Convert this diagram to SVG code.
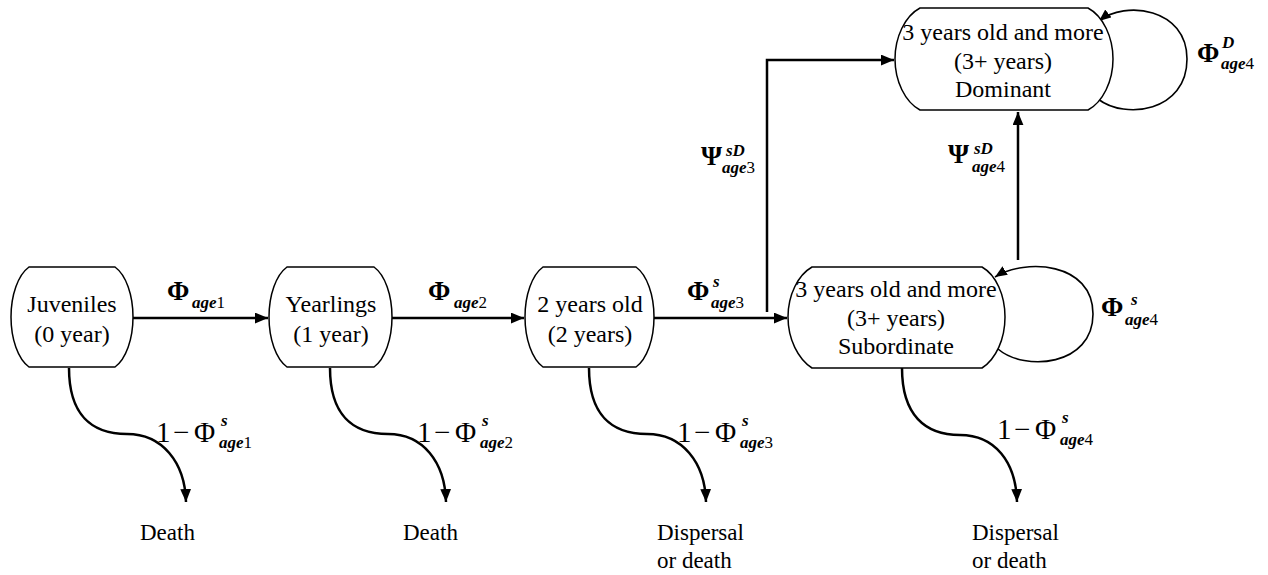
<svg xmlns="http://www.w3.org/2000/svg" width="1268" height="575" viewBox="0 0 1268 575">
  <style>
    text { font-family: 'Liberation Serif', 'DejaVu Serif', serif; fill: #000; }
    .box { fill: #fff; stroke: #000; stroke-width: 1.5; }
    .lbl { font-size: 24px; text-anchor: middle; }
    .out { font-size: 23px; }
    .sym { font-size: 27px; font-weight: bold; }
    .num { font-size: 29px; }
    .sub { font-size: 17px; font-weight: bold; font-style: italic; }
    .dig { font-style: normal; font-weight: normal; }
    .edge { fill: none; stroke: #000; stroke-width: 2.5; }
    .loop { fill: none; stroke: #000; stroke-width: 1.6; }
  </style>
  <defs>
    <marker id="arrow" viewBox="0 0 12 10" refX="12" refY="5" markerWidth="13" markerHeight="11" markerUnits="userSpaceOnUse" orient="auto">
      <path d="M0,0 L12,5 L0,10 z" fill="#000"/>
    </marker>
    <marker id="arrowSmall" viewBox="0 0 12 10" refX="12" refY="5" markerWidth="12" markerHeight="10" markerUnits="userSpaceOnUse" orient="auto">
      <path d="M0,0 L12,5 L0,10 z" fill="#000"/>
    </marker>
  </defs>

  <!-- transitions -->
  <g id="connectors">
    <path class="edge" d="M133,318 H268" marker-end="url(#arrow)"/>
    <path class="edge" d="M392,318 H524" marker-end="url(#arrow)"/>
    <path class="edge" d="M654,318 H787" marker-end="url(#arrow)"/>
    <path class="edge" d="M767,312 V60 H894" marker-end="url(#arrow)"/>
    <path class="edge" d="M1018,260 V112" marker-end="url(#arrow)"/>
    <path class="loop" d="M1098,99 C1125,120 1187,112 1187,59 C1187,8 1125,0 1099,21" marker-end="url(#arrowSmall)"/>
    <path class="loop" d="M998,349 C1025,372 1093,366 1093,314 C1093,262 1025,258 995,277" marker-end="url(#arrowSmall)"/>
    <path class="edge" d="M69,368 C69,415 92,434 127,434 C162,434 185,462 186,502" marker-end="url(#arrow)"/>
    <path class="edge" d="M330,368 C330,415 353,434 388,434 C423,434 445,462 446,502" marker-end="url(#arrow)"/>
    <path class="edge" d="M589,368 C589,415 612,434 647,434 C682,434 705,462 706,502" marker-end="url(#arrow)"/>
    <path class="edge" d="M902,368 C902,415 925,435 960,435 C995,435 1016,462 1017,502" marker-end="url(#arrow)"/>
  </g>

  <!-- transition labels -->
  <g id="edge-labels">
    <text class="sym" x="167" y="300">Φ</text><text class="sub" x="192" y="308">age<tspan class="dig">1</tspan></text>
    <text class="sym" x="428" y="300">Φ</text><text class="sub" x="454" y="308">age<tspan class="dig">2</tspan></text>
    <text class="sym" x="687" y="300">Φ</text><text class="sub" x="713" y="287">s</text><text class="sub" x="711" y="308">age<tspan class="dig">3</tspan></text>
    <text class="sym" x="701" y="165">Ψ</text><text class="sub" x="726" y="156">sD</text><text class="sub" x="722" y="173">age<tspan class="dig">3</tspan></text>
    <text class="sym" x="948" y="163">Ψ</text><text class="sub" x="974" y="154">sD</text><text class="sub" x="972" y="172">age<tspan class="dig">4</tspan></text>
    <text class="sym" x="1197" y="62">Φ</text><text class="sub" x="1222" y="48">D</text><text class="sub" x="1221" y="69">age<tspan class="dig">4</tspan></text>
    <text class="sym" x="1101" y="316">Φ</text><text class="sub" x="1131" y="305">s</text><text class="sub" x="1125" y="325">age<tspan class="dig">4</tspan></text>

    <text class="num" x="156" y="442">1</text><text class="num" x="173" y="442">−</text><text class="num" x="194" y="442">Φ</text><text class="sub" x="221" y="426">s</text><text class="sub" x="219" y="448">age<tspan class="dig">1</tspan></text>
    <text class="num" x="417" y="442">1</text><text class="num" x="434" y="442">−</text><text class="num" x="455" y="442">Φ</text><text class="sub" x="482" y="426">s</text><text class="sub" x="480" y="448">age<tspan class="dig">2</tspan></text>
    <text class="num" x="677" y="442">1</text><text class="num" x="694" y="442">−</text><text class="num" x="715" y="442">Φ</text><text class="sub" x="742" y="426">s</text><text class="sub" x="740" y="448">age<tspan class="dig">3</tspan></text>
    <text class="num" x="997" y="439">1</text><text class="num" x="1014" y="439">−</text><text class="num" x="1035" y="439">Φ</text><text class="sub" x="1062" y="423">s</text><text class="sub" x="1060" y="445">age<tspan class="dig">4</tspan></text>
  </g>

  <!-- age classes -->
  <g id="juveniles">
    <path class="box" d="M29,267 H115 C126,275 133,295 133,317 C133,339 126,359 115,367 H29 C18,359 11,339 11,317 C11,295 18,275 29,267 Z"/>
    <text class="lbl" x="72" y="312">Juveniles</text>
    <text class="lbl" x="72" y="342">(0 year)</text>
  </g>
  <g id="yearlings">
    <path class="box" d="M287,267 H374 C385,275 392,295 392,317 C392,339 385,359 374,367 H287 C276,359 269,339 269,317 C269,295 276,275 287,267 Z"/>
    <text class="lbl" x="331" y="312">Yearlings</text>
    <text class="lbl" x="331" y="342">(1 year)</text>
  </g>
  <g id="two-years">
    <path class="box" d="M543,267 H636 C647,275 654,295 654,317 C654,339 647,359 636,367 H543 C532,359 525,339 525,317 C525,295 532,275 543,267 Z"/>
    <text class="lbl" x="590" y="312">2 years old</text>
    <text class="lbl" x="590" y="342">(2 years)</text>
  </g>
  <g id="subordinate">
    <path class="box" d="M812,267 H982 C996,275 1005,295 1005,317 C1005,339 996,359 982,368 H812 C798,359 788,339 788,317 C788,295 798,275 812,267 Z"/>
    <text class="lbl" x="896" y="297">3 years old and more</text>
    <text class="lbl" x="896" y="326">(3+ years)</text>
    <text class="lbl" x="896" y="354">Subordinate</text>
  </g>
  <g id="dominant">
    <path class="box" d="M920,8 H1088 C1103,16 1113,37 1113,59 C1113,81 1103,102 1088,110 H920 C905,102 895,81 895,59 C895,37 905,16 920,8 Z"/>
    <text class="lbl" x="1003" y="40">3 years old and more</text>
    <text class="lbl" x="1003" y="69">(3+ years)</text>
    <text class="lbl" x="1003" y="97">Dominant</text>
  </g>

  <!-- outcomes -->
  <g id="outcome-1"><text class="out" x="140" y="540">Death</text></g>
  <g id="outcome-2"><text class="out" x="403" y="540">Death</text></g>
  <g id="outcome-3"><text class="out" x="657" y="540">Dispersal</text><text class="out" x="657" y="568">or death</text></g>
  <g id="outcome-4"><text class="out" x="972" y="540">Dispersal</text><text class="out" x="972" y="568">or death</text></g>
</svg>
